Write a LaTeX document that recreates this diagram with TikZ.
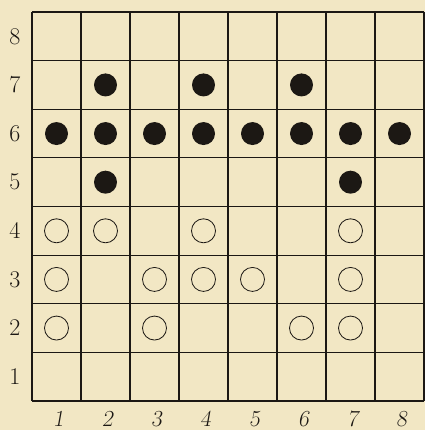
\documentclass[tikz,border=0pt]{standalone}
\usepackage{fontspec}
\setmainfont{Latin Modern Roman}
\newfontfamily\slantlm[FakeSlant=0.18]{Latin Modern Roman}
\definecolor{paper}{RGB}{242,231,196}
\definecolor{ink}{RGB}{28,24,20}
\begin{document}
\begin{tikzpicture}[x=1pt,y=-1pt,
  gridline/.style={draw=ink,line width=1.1pt},
  blackstone/.style={circle,fill=ink,minimum size=23pt,inner sep=0pt},
  whitestone/.style={circle,draw=ink,line width=0.8pt,minimum size=24pt,inner sep=0pt},
  rowlab/.style={text=ink,inner sep=0pt,font=\fontsize{24}{26}\selectfont},
  collab/.style={text=ink,inner sep=0pt,anchor=base,font=\fontsize{23}{26}\slantlm}]
\fill[paper] (0,0) rectangle (425,430);
\useasboundingbox (0,0) rectangle (425,430);
% grid
\foreach \i in {0,...,8} {
  \draw[gridline] ({32+49*\i},12) -- ({32+49*\i},401);
  \draw[gridline] (32,{12+48.625*\i}) -- (424,{12+48.625*\i});
}
% row labels
\foreach \r in {1,...,8} {
  \node[rowlab] (r\r) at (15,{12+48.625*(8-\r)+24.3}) {\r};
}
% column labels
\foreach \c in {1,...,8} {
  \node[collab] (c\c) at ({32+49*(\c-0.5)+2},426) {\c};
}
% black stones
\foreach \c/\r in {2/7,4/7,6/7,1/6,2/6,3/6,4/6,5/6,6/6,7/6,8/6,2/5,7/5} {
  \node[blackstone] (b\c\r) at ({32+49*(\c-0.5)},{12+48.625*(8-\r)+24.3}) {};
}
% white stones
\foreach \c/\r in {1/4,2/4,4/4,7/4,1/3,3/3,4/3,5/3,7/3,1/2,3/2,6/2,7/2} {
  \node[whitestone] (w\c\r) at ({32+49*(\c-0.5)},{12+48.625*(8-\r)+24.3}) {};
}
\end{tikzpicture}
\end{document}
